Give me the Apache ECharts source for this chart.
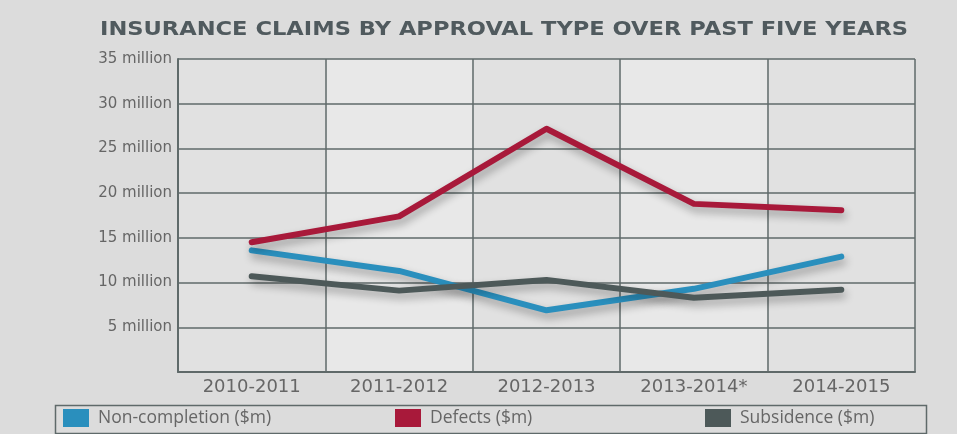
<!DOCTYPE html>
<html>
<head>
<meta charset="utf-8">
<script src="https://cdn.jsdelivr.net/npm/echarts@6/dist/echarts.min.js"></script>
<style>
html,body{margin:0;padding:0;background:#dcdcdc;}
#c{width:957px;height:434px;}
</style>
</head>
<body>
<div id="c"></div>
<script>
const categories = ['2010-2011','2011-2012','2012-2013','2013-2014*','2014-2015'];
const nonCompletion = [13.6, 11.3, 6.9, 9.3, 12.9];
const defects = [14.5, 17.4, 27.2, 18.8, 18.1];
const subsidence = [10.7, 9.1, 10.3, 8.3, 9.2];
const yTicks = [0, 5, 10, 15, 20, 25, 30, 35];
const seriesNames = ['Non-completion ($m)', 'Defects ($m)', 'Subsidence ($m)'];
const colors = ['#2a8fbd', '#a8193a', '#4d5959'];
const titleText = 'INSURANCE CLAIMS BY APPROVAL TYPE OVER PAST FIVE YEARS';

const chart = echarts.init(document.getElementById('c'), null, {renderer:'canvas'});
const gridColor = '#5f6a6a';

// measure title width to stretch it horizontally like the wide original face
const titleFont = 'bold 19px "DejaVu Sans"';
const ctx = document.createElement('canvas').getContext('2d');
ctx.font = titleFont;
const titleW = ctx.measureText(titleText).width || 680;
const titleScale = 808 / titleW;

function lineSeries(name, data, color){
  return {
    name, type:'line', data, symbol:'none', smooth:false, z:5,
    lineStyle:{color, width:6, cap:'round', join:'round',
      shadowBlur:9, shadowColor:'rgba(0,0,0,0.33)', shadowOffsetY:5, shadowOffsetX:2},
    itemStyle:{color}
  };
}
const legendBase = {
  top: 409, itemWidth: 26, itemHeight: 18, icon: 'rect', padding:0,
  textStyle:{color:'#666', fontFamily:'Open Sans', fontSize:17.5, padding:[0,0,0,4]}, itemGap: 10
};
chart.setOption({
  backgroundColor:'#dcdcdc',
  animation:false,
  legend:[
    Object.assign({}, legendBase, {left:63, data:[seriesNames[0]]}),
    Object.assign({}, legendBase, {left:395, data:[seriesNames[1]]}),
    Object.assign({}, legendBase, {left:705, data:[seriesNames[2]]})
  ],
  graphic:[{
    type:'rect', left:53, top:403, z:-1,
    shape:{width:871, height:28},
    style:{fill:'none', stroke:gridColor, lineWidth:1.5}
  },{
    type:'text', x:100, y:30, scaleX:titleScale, originX:0,
    style:{text:titleText, font:titleFont, fill:'#505a5e',
      textAlign:'left', textVerticalAlign:'middle'}
  }],
  grid:{left:178, right:42, top:59, bottom:62},
  xAxis:{
    type:'category', data:categories, boundaryGap:true, z:0,
    axisLine:{show:true, lineStyle:{color:gridColor, width:2}},
    axisTick:{show:false},
    axisLabel:{color:'#666', fontFamily:'DejaVu Sans', fontSize:18, margin:6},
    splitLine:{show:true, lineStyle:{color:gridColor, width:1.5}},
    splitArea:{show:true, areaStyle:{color:['#e1e1e1','#e8e8e8']}}
  },
  yAxis:{
    type:'value', min:yTicks[0], max:yTicks[yTicks.length-1], interval:5, z:1,
    axisLine:{show:true, lineStyle:{color:gridColor, width:2}},
    axisTick:{show:false},
    axisLabel:{color:'#666', fontFamily:'DejaVu Sans', fontSize:15, margin:6,
      formatter: v => v === 0 ? '' : v + ' million'},
    splitLine:{show:true, lineStyle:{color:gridColor, width:1.5}}
  },
  series:[
    lineSeries(seriesNames[0], nonCompletion, colors[0]),
    lineSeries(seriesNames[1], defects, colors[1]),
    lineSeries(seriesNames[2], subsidence, colors[2])
  ]
});
</script>
</body>
</html>
